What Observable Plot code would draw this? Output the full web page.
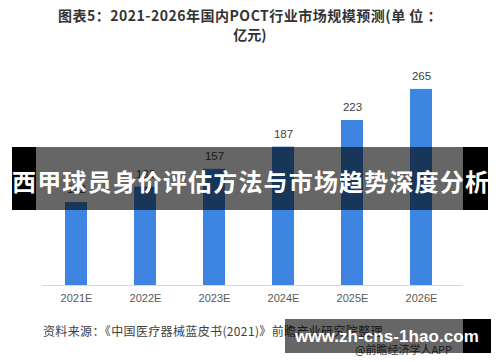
<!DOCTYPE html>
<html><head><meta charset="utf-8">
<script src="https://cdn.jsdelivr.net/npm/d3@7"></script>
<script src="https://cdn.jsdelivr.net/npm/@observablehq/plot@0.6"></script>
<style>
body{margin:0;background:#fff;}
#wrap{position:relative;width:500px;height:362px;overflow:hidden;font-family:"Noto Sans CJK SC","Noto Sans",sans-serif;}
#chart{position:absolute;left:0;top:0;}
.abs{position:absolute;white-space:nowrap;}
</style></head>
<body><div id="wrap"><div id="chart"></div></div>
<script>
const years = ["2021E","2022E","2023E","2024E","2025E","2026E"];
const values = [112, 133, 157, 187, 223, 265];
const titleLines = ["图表5：2021-2026年国内POCT行业市场规模预测(单 位 ：", "亿元)"];
const sourceText = "资料来源：《中国医疗器械蓝皮书(2021)》前瞻产业研究院整理";
const bannerText = "西甲球员身价评估方法与市场趋势深度分析";
const urlText = "www.zh-cns-1hao.com";
const appText = "@前瞻经济学人APP";

const data = years.map((y,i)=>({year:y, value:values[i]}));

const plot = Plot.plot({
  width: 500, height: 362,
  marginTop: 63, marginBottom: 77, marginLeft: 42, marginRight: 37,
  style: {background:"transparent", fontFamily:"'Liberation Sans','Noto Sans CJK SC',sans-serif"},
  x: {type:"band", domain: years, range:[41.5,455.5], paddingInner:0.68, paddingOuter:0.34},
  y: {domain:[0,300], range:[285,63], axis:null},
  marks: [
    Plot.ruleY([0], {stroke:"#d9d9d9", strokeWidth:1}),
    Plot.barY(data, {x:"year", y:"value", fill:"#3d85e0"}),
    Plot.text(data, {x:"year", y:"value", text:d=>String(d.value), dy:-13, fontSize:11.5, fill:"#404040"}),
    Plot.axisX({tickSize:0, tickPadding:9, fontSize:11, color:"#595959", label:null})
  ]
});
document.getElementById("chart").appendChild(plot);

const wrap = document.getElementById("wrap");
const cv = document.createElement("canvas").getContext("2d");
function add(t, css, fitWidth){
  const d=document.createElement("div");d.className="abs";d.textContent=t;Object.assign(d.style,css);
  if (fitWidth){
    cv.font = `${css.fontWeight||"normal"} ${css.fontSize} ${css.fontFamily||'"Noto Sans CJK SC"'}`;
    const w = cv.measureText(t).width;
    const n = [...t].length;
    d.style.letterSpacing = ((fitWidth - w)/n).toFixed(2)+"px";
  }
  wrap.appendChild(d);return d;
}
function box(css){const d=document.createElement("div");d.className="abs";Object.assign(d.style,css);wrap.appendChild(d);return d;}

// title
add(titleLines[0],{left:"58px",top:"5px",fontSize:"14px",fontWeight:"bold",color:"#333",lineHeight:"20px"},384);
add(titleLines[1],{left:"0",width:"500px",textAlign:"center",top:"24px",fontSize:"14px",fontWeight:"bold",color:"#333",lineHeight:"20px"});

// source
add(sourceText,{left:"43px",top:"323px",fontSize:"12px",color:"#404040",lineHeight:"16px"},340);
add(appText,{left:"355px",top:"342px",fontSize:"11px",color:"#404040",lineHeight:"15px"});

// top banner
box({left:"36px",top:"147px",width:"427px",height:"63px",background:"rgba(0,0,0,0.6)"});
box({left:"12px",top:"147px",width:"24px",height:"63px",background:"#000"});
box({left:"463px",top:"147px",width:"25px",height:"63px",background:"#000"});
add(bannerText,{left:"12px",top:"164px",fontSize:"24px",fontWeight:"bold",color:"#fff",lineHeight:"34px"},478);

// bottom banner
box({left:"285px",top:"319px",width:"178px",height:"34px",background:"rgba(0,0,0,0.6)"});
box({left:"463px",top:"319px",width:"28px",height:"34px",background:"#000"});
add(urlText,{left:"295px",top:"324px",fontSize:"17px",fontWeight:"bold",color:"#fff",lineHeight:"26px",fontFamily:"'Liberation Sans',sans-serif"},184);
</script>
</body></html>
